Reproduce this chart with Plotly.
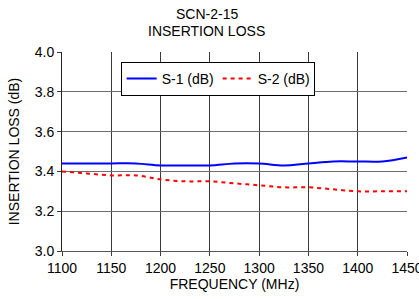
import plotly.graph_objects as go

freq = [1100, 1125, 1150, 1175, 1200, 1225, 1250, 1275, 1300, 1325, 1350, 1375, 1400, 1425, 1450]
s1 = [3.44, 3.44, 3.44, 3.44, 3.43, 3.43, 3.43, 3.44, 3.44, 3.43, 3.44, 3.45, 3.45, 3.45, 3.47]
s2 = [3.40, 3.39, 3.38, 3.38, 3.36, 3.35, 3.35, 3.34, 3.33, 3.32, 3.32, 3.31, 3.30, 3.30, 3.30]
xticks = [1100, 1150, 1200, 1250, 1300, 1350, 1400, 1450]
yticks = [3.0, 3.2, 3.4, 3.6, 3.8, 4.0]
title_lines = ["SCN-2-15", "INSERTION LOSS"]

fig = go.Figure()
fig.add_trace(go.Scatter(x=freq, y=s1, mode="lines", name="S-1 (dB)",
                         line=dict(color="#0000ff", width=2, shape="spline")))
fig.add_trace(go.Scatter(x=freq, y=s2, mode="lines", name="S-2 (dB)",
                         line=dict(color="#ff0000", width=2, dash="4px,4px", shape="spline")))

fnt = "Liberation Sans, Arial"
fig.update_layout(
    width=419, height=299,
    margin=dict(l=62, r=12, t=52, b=48, autoexpand=False),
    paper_bgcolor="white", plot_bgcolor="white",
    font=dict(family=fnt, size=14, color="black"),
    showlegend=True,
    legend=dict(orientation="h", x=0.17, y=0.95, xanchor="left", yanchor="top",
                bgcolor="white", bordercolor="black", borderwidth=1,
                font=dict(size=14), itemwidth=30, tracegroupgap=0,
                entrywidthmode="pixels", entrywidth=51),
    xaxis=dict(range=[1100, 1450], tickvals=xticks, ticktext=[str(v) for v in xticks],
               showgrid=True, gridcolor="#3a3a3a", gridwidth=1,
               ticks="outside", ticklen=4, tickcolor="#3a3a3a",
               showline=True, linecolor="#555555", mirror=False,
               ticklabeloverflow="allow", tickfont=dict(size=14),
               zeroline=False, title=dict(text="FREQUENCY (MHz)", standoff=0, font=dict(size=14))),
    yaxis=dict(range=[3.0, 4.0], tickvals=yticks, ticktext=[f"{v:.1f}" for v in yticks],
               showgrid=True, gridcolor="#6e6e6e", gridwidth=1,
               ticks="outside", ticklen=4, tickcolor="#3a3a3a",
               showline=True, linecolor="#222222", mirror=False,
               tickfont=dict(size=14),
               zeroline=False, title=dict(text="INSERTION LOSS (dB)", standoff=11, font=dict(size=14))),
)
fig.add_annotation(text=title_lines[0], xref="paper", yref="paper", x=0.42, y=1.0,
                   xanchor="center", yanchor="middle", yshift=38, showarrow=False,
                   font=dict(size=14, family=fnt))
fig.add_annotation(text=title_lines[1], xref="paper", yref="paper", x=0.42, y=1.0,
                   xanchor="center", yanchor="middle", yshift=21, showarrow=False,
                   font=dict(size=14, family=fnt))

fig.write_html("out.html", config={"displayModeBar": False},
               post_script="document.body.style.margin='0';")
